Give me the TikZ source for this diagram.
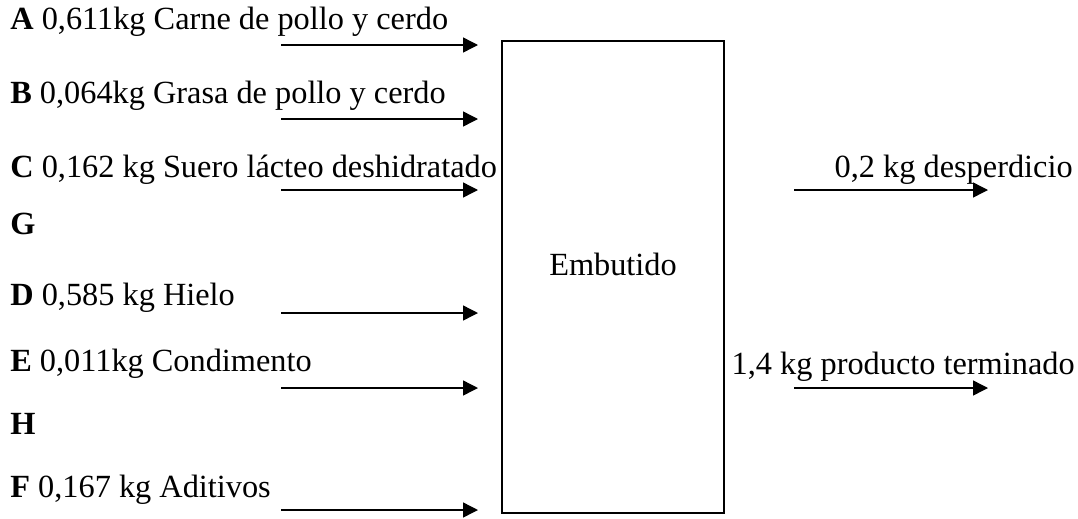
\documentclass[tikz,border=0pt]{standalone}
\usepackage{fontspec}
\setmainfont{Liberation Serif}
\usetikzlibrary{arrows.meta,positioning}

\begin{document}
\begin{tikzpicture}[x=0.02cm,y=-0.02cm,>={Triangle[length=8.5pt,width=8.5pt]},
    flujo/.style={->,line width=0.8pt},
    etiq/.style={inner sep=0pt,anchor=base west,font=\fontsize{18.4}{22}\selectfont}]
    \useasboundingbox (0,0) rectangle (1078,518);
    % Proceso
    \node[draw,line width=1.4pt,inner sep=0pt,minimum width=4.44cm,minimum height=9.44cm] (emb) at (613,277) {};
    \node[etiq,anchor=base] (embtxt) at (613,275) {Embutido};
    % Entradas
    \node[etiq] (la) at (10,29) {\textbf{A} 0,611kg Carne de pollo y cerdo};
    \node[etiq] (lb) at (10,103) {\textbf{B} 0,064kg Grasa de pollo y cerdo};
    \node[etiq] (lc) at (10,177) {\textbf{C} 0,162 kg Suero lácteo deshidratado};
    \node[etiq] (lg) at (10,234) {\textbf{G}};
    \node[etiq] (ld) at (10,305) {\textbf{D} 0,585 kg Hielo};
    \node[etiq] (le) at (10,371) {\textbf{E} 0,011kg Condimento};
    \node[etiq] (lh) at (10,434) {\textbf{H}};
    \node[etiq] (lf) at (10,497) {\textbf{F} 0,167 kg Aditivos};
    \coordinate (a0) at (281,45);  \coordinate (a1) at (478,45);
    \coordinate (b0) at (281,119); \coordinate (b1) at (478,119);
    \coordinate (c0) at (281,190); \coordinate (c1) at (478,190);
    \coordinate (d0) at (281,313); \coordinate (d1) at (478,313);
    \coordinate (e0) at (281,388); \coordinate (e1) at (478,388);
    \coordinate (f0) at (281,510); \coordinate (f1) at (478,510);
    \draw[flujo] (a0) -- (a1);
    \draw[flujo] (b0) -- (b1);
    \draw[flujo] (c0) -- (c1);
    \draw[flujo] (d0) -- (d1);
    \draw[flujo] (e0) -- (e1);
    \draw[flujo] (f0) -- (f1);
    % Salidas
    \node[etiq,anchor=base east] (ldes) at (1073,177) {0,2 kg desperdicio};
    \node[etiq,anchor=base east] (lprod) at (1075,374) {1,4 kg producto terminado};
    \coordinate (s0) at (794,190); \coordinate (s1) at (988,190);
    \coordinate (t0) at (794,388); \coordinate (t1) at (988,388);
    \draw[flujo] (s0) -- (s1);
    \draw[flujo] (t0) -- (t1);
\end{tikzpicture}
\end{document}
